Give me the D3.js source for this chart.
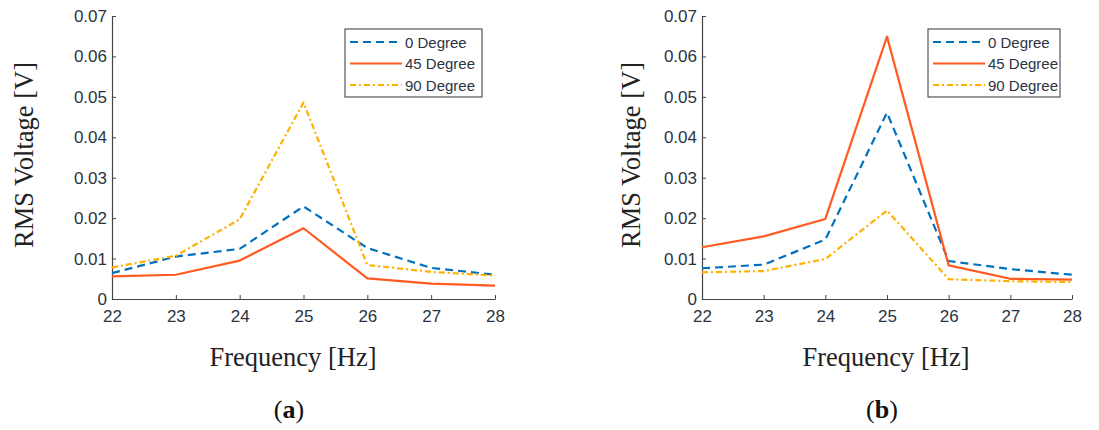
<!DOCTYPE html>
<html><head><meta charset="utf-8">
<script src="https://cdn.jsdelivr.net/npm/d3@7"></script>
<style>body{margin:0;background:#fff}</style>
</head><body>
<svg id="c" width="1099" height="430"></svg>
<script>
const freqs = [22, 23, 24, 25, 26, 27, 28];
const yTicks = [0, 0.01, 0.02, 0.03, 0.04, 0.05, 0.06, 0.07];
const seriesNames = ["0 Degree", "45 Degree", "90 Degree"];
// panel (a)
const a0 = [0.0064, 0.0105, 0.0124, 0.0229, 0.0126, 0.0077, 0.0060];
const a45 = [0.0056, 0.0060, 0.0095, 0.0175, 0.0051, 0.0038, 0.0033];
const a90 = [0.0078, 0.0107, 0.0197, 0.0486, 0.0084, 0.0067, 0.0058];
// panel (b)
const b0 = [0.0076, 0.0085, 0.0147, 0.0461, 0.0094, 0.0074, 0.0060];
const b45 = [0.0128, 0.0155, 0.0198, 0.0649, 0.0083, 0.0050, 0.0048];
const b90 = [0.0066, 0.0069, 0.0099, 0.0219, 0.0049, 0.0044, 0.0042];

const colors = ["#0072BD", "#FF5A1F", "#FFB000"];
const dashes = ["8,5", null, "6,3,2,3"];
const svg = d3.select("#c");
const sans = "Arial, 'Liberation Sans', sans-serif";
const serif = "'Liberation Serif', 'DejaVu Serif', serif";

function panel(x0, x1, series, letter, legX, legW, yLabelX, labelCx) {
  const top = 16, bottom = 299;
  const x = d3.scaleLinear().domain([22, 28]).range([x0, x1]);
  const y = d3.scaleLinear().domain([0, 0.07]).range([bottom, top]);
  const g = svg.append("g");
  const tickColor = "#2b3442";
  const xa = g.append("g").attr("transform", `translate(0,${bottom})`)
    .call(d3.axisBottom(x).tickValues(freqs).tickFormat(d3.format("d")).tickSize(-4).tickSizeOuter(0).tickPadding(11));
  const ya = g.append("g").attr("transform", `translate(${x0},0)`)
    .call(d3.axisLeft(y).tickValues(yTicks).tickFormat(d => d === 0 ? "0" : d3.format(".2f")(d)).tickSize(-4).tickSizeOuter(0).tickPadding(5));
  [xa, ya].forEach(a => {
    a.select(".domain").attr("stroke", "#444").attr("stroke-width", 1.2);
    a.selectAll(".tick line").attr("stroke", "#444");
    a.selectAll("text").attr("fill", tickColor).style("font-family", sans).style("font-size", "17px");
  });
  const line = d3.line().x((d, i) => x(freqs[i])).y(d => y(d));
  series.forEach((s, k) => {
    g.append("path").datum(s).attr("d", line).attr("fill", "none")
      .attr("stroke", colors[k]).attr("stroke-width", 2.2)
      .attr("stroke-dasharray", dashes[k]).attr("stroke-linejoin", "round");
  });
  // legend
  const lg = g.append("g");
  lg.append("rect").attr("x", legX).attr("y", 29).attr("width", legW).attr("height", 68)
    .attr("fill", "#fff").attr("stroke", "#555").attr("stroke-width", 1.2);
  seriesNames.forEach((n, k) => {
    const yy = 42 + k * 21.5;
    lg.append("line").attr("x1", legX + 5).attr("x2", legX + 57).attr("y1", yy).attr("y2", yy)
      .attr("stroke", colors[k]).attr("stroke-width", 2.2).attr("stroke-dasharray", dashes[k]);
    lg.append("text").attr("x", legX + 60).attr("y", yy + 5.5).text(n)
      .attr("fill", tickColor).style("font-family", sans).style("font-size", "15px");
  });
  g.append("text").attr("transform", `translate(${yLabelX},${155}) rotate(-90)`)
    .attr("text-anchor", "middle").text("RMS Voltage [V]")
    .style("font-family", serif).style("font-size", "26.5px").attr("fill", "#222");
  g.append("text").attr("x", labelCx).attr("y", 366).attr("text-anchor", "middle").text("Frequency [Hz]")
    .style("font-family", serif).style("font-size", "26.5px").attr("fill", "#222");
  const cap = g.append("text").attr("x", labelCx - 4).attr("y", 418).attr("text-anchor", "middle")
    .style("font-family", serif).style("font-size", "26px").attr("fill", "#111");
  cap.append("tspan").text("(");
  cap.append("tspan").text(letter).style("font-weight", "bold");
  cap.append("tspan").text(")");
}

panel(112, 495, [a0, a45, a90], "a", 345, 137, 33, 293);
panel(702, 1072, [b0, b45, b90], "b", 928, 132, 640, 886);
</script>
</body></html>
